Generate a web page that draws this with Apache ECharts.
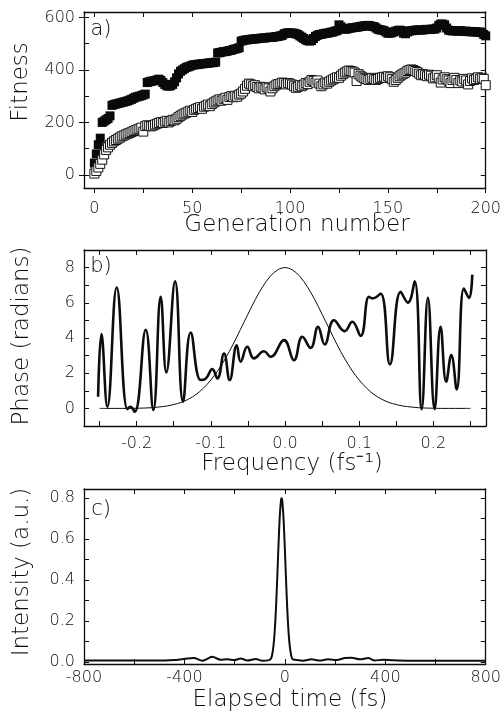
<!DOCTYPE html>
<html><head><meta charset="utf-8">
<script src="https://cdn.jsdelivr.net/npm/echarts@6/dist/echarts.min.js"></script>
<style>html,body{margin:0;padding:0;background:#fff}#c{width:504px;height:720px}</style>
</head><body><div id="c"></div>
<script>
// ---------- Panel a: fitness vs generation ----------
const generations = Array.from({length: 201}, (_, i) => i);
const fitnessBest = [
  45, 80, 115, 140, 200, 205, 210, 215, 225, 265,
  268, 270, 272, 274, 276, 278, 280, 282, 285, 288,
  292, 296, 298, 300, 302, 305, 308, 352, 355, 357,
  358, 360, 362, 365, 360, 352, 345, 340, 338, 340,
  345, 355, 370, 385, 395, 400, 405, 410, 412, 415,
  418, 420, 420, 422, 422, 424, 424, 425, 426, 427,
  428, 428, 430, 465, 466, 468, 470, 470, 472, 474,
  475, 478, 480, 482, 485, 510, 512, 514, 515, 516,
  517, 518, 518, 519, 520, 521, 522, 522, 523, 524,
  525, 524, 526, 527, 528, 530, 532, 538, 540, 542,
  540, 541, 540, 538, 535, 530, 525, 520, 515, 512,
  510, 512, 520, 528, 532, 535, 536, 538, 540, 540,
  542, 544, 545, 548, 550, 572, 565, 558, 555, 556,
  558, 560, 561, 562, 563, 564, 566, 567, 568, 569,
  570, 568, 566, 565, 560, 555, 553, 552, 550, 545,
  540, 540, 542, 545, 548, 550, 552, 550, 540, 538,
  545, 548, 550, 550, 552, 552, 553, 552, 553, 554,
  555, 554, 555, 556, 556, 560, 570, 575, 575, 572,
  560, 552, 550, 549, 550, 548, 549, 550, 548, 547,
  548, 546, 547, 545, 546, 545, 544, 545, 542, 535,
  530
];
const fitnessAvg = [
  5, 15, 28, 42, 58, 78, 95, 105, 115, 122,
  128, 133, 138, 142, 147, 150, 154, 157, 160, 163,
  167, 170, 173, 176, 180, 165, 186, 189, 187, 185,
  188, 192, 195, 198, 201, 198, 203, 206, 200, 205,
  210, 208, 214, 220, 225, 230, 234, 237, 241, 245,
  240, 248, 252, 255, 258, 252, 260, 264, 268, 262,
  270, 276, 280, 284, 288, 283, 290, 294, 286, 297,
  300, 296, 302, 298, 306, 310, 318, 328, 340, 348,
  345, 338, 342, 335, 330, 336, 332, 326, 334, 330,
  318, 330, 338, 344, 346, 348, 352, 350, 345, 350,
  348, 344, 338, 332, 336, 342, 338, 344, 350, 346,
  355, 362, 358, 352, 360, 348, 338, 345, 352, 348,
  355, 360, 364, 368, 372, 370, 378, 384, 390, 394,
  398, 396, 394, 390, 358, 384, 378, 372, 368, 366,
  362, 366, 370, 366, 362, 366, 370, 372, 374, 370,
  376, 372, 365, 355, 362, 370, 376, 382, 386, 390,
  396, 400, 402, 400, 396, 392, 386, 380, 384, 380,
  376, 382, 378, 368, 372, 380, 370, 352, 364, 372,
  365, 360, 350, 362, 370, 362, 350, 360, 356, 366,
  360, 345, 358, 368, 362, 365, 372, 366, 370, 366,
  342
];
const aXLabels = [0, 50, 100, 150, 200];
const aXTicks = [0, 25, 50, 75, 100, 125, 150, 175, 200];
const aYLabels = [0, 200, 400, 600];
const aYTicks = [0, 100, 200, 300, 400, 500, 600];

// ---------- Panel b: spectral phase and spectrum ----------
const phaseFreq = [-0.2520, -0.2475, -0.2395, -0.2269, -0.2125, -0.2085, -0.2026, -0.1878, -0.1775, -0.1676,
  -0.1600, -0.1482, -0.1375, -0.1271, -0.1137, -0.1070, -0.0980, -0.0912, -0.0822, -0.0746,
  -0.0651, -0.0598, -0.0508, -0.0418, -0.0283, -0.0193, -0.0013, 0.0121, 0.0234, 0.0346,
  0.0445, 0.0535, 0.0660, 0.0804, 0.0907, 0.1020, 0.1132, 0.1180, 0.1289, 0.1415,
  0.1559, 0.1658, 0.1748, 0.1842, 0.1927, 0.2017, 0.2098, 0.2174, 0.2242, 0.2314,
  0.2412, 0.2480, 0.2525];
const phaseVal = [0.66, 4.22, 0.09, 6.87, -0.04, 0.09, -0.19, 4.46, -0.09, 6.34,
  2.04, 7.22, 0.38, 4.31, 1.61, 1.68, 2.23, 1.70, 3.12, 1.61,
  3.59, 2.65, 3.50, 2.84, 3.25, 2.93, 3.88, 2.74, 4.07, 3.44,
  4.63, 3.63, 5.01, 4.39, 4.92, 4.12, 6.34, 6.25, 6.52, 2.50,
  6.62, 6.01, 7.22, -0.04, 6.28, -0.04, 4.63, 1.51, 3.03, 1.08,
  6.81, 6.28, 7.60];
const specFreq = [-0.25, -0.24, -0.23, -0.22, -0.21, -0.20, -0.19, -0.18, -0.17, -0.16, -0.15, -0.14, -0.13,
  -0.12, -0.11, -0.10, -0.09, -0.08, -0.07, -0.06, -0.05, -0.04, -0.03, -0.02, -0.01, 0.00,
  0.01, 0.02, 0.03, 0.04, 0.05, 0.06, 0.07, 0.08, 0.09, 0.10, 0.11, 0.12, 0.13,
  0.14, 0.15, 0.16, 0.17, 0.18, 0.19, 0.20, 0.21, 0.22, 0.23, 0.24, 0.25];
const specVal = [0.00, 0.00, 0.00, 0.00, 0.00, 0.01, 0.02, 0.04, 0.08, 0.13, 0.22, 0.34, 0.53,
  0.79, 1.15, 1.61, 2.18, 2.86, 3.64, 4.49, 5.35, 6.19, 6.92, 7.50, 7.87, 8.00,
  7.87, 7.50, 6.92, 6.19, 5.35, 4.49, 3.64, 2.86, 2.18, 1.61, 1.15, 0.79, 0.53,
  0.34, 0.22, 0.13, 0.08, 0.04, 0.02, 0.01, 0.00, 0.00, 0.00, 0.00, 0.00];
const bXLabels = [-0.2, -0.1, 0.0, 0.1, 0.2];
const bXTicks = [-0.25, -0.2, -0.15, -0.1, -0.05, 0, 0.05, 0.1, 0.15, 0.2, 0.25];
const bYLabels = [0, 2, 4, 6, 8];
const bYTicks = [-1, 0, 1, 2, 3, 4, 5, 6, 7, 8, 9];

// ---------- Panel c: temporal intensity ----------
const timeFs = [-800, -600, -480, -440, -402, -362, -329, -289, -256, -229, -200, -176, -149, -116, -89, -63,
  -55, -50, -45, -40, -35, -30, -25, -20, -15, -13, -10, -5, 0, 5, 10, 15, 20, 25, 30, 40,
  73, 106, 139, 172, 206, 239, 265, 299, 332, 358, 391, 431, 500, 600, 800];
const intensity = [0.006, 0.006, 0.006, 0.008, 0.014, 0.018, 0.005, 0.024, 0.010, 0.012, 0.008, 0.016, 0.006, 0.014, 0.005, 0.008,
  0.016, 0.038, 0.082, 0.158, 0.273, 0.421, 0.581, 0.718, 0.793, 0.800, 0.784, 0.693, 0.550, 0.390, 0.247, 0.140, 0.071, 0.032, 0.013, 0.010,
  0.005, 0.012, 0.006, 0.012, 0.008, 0.018, 0.020, 0.012, 0.018, 0.006, 0.010, 0.007, 0.005, 0.005, 0.005];
const cXLabels = [-800, -400, 0, 400, 800];
const cXTicks = [-800, -600, -400, -200, 0, 200, 400, 600, 800];
const cYLabels = [0, 0.2, 0.4, 0.6, 0.8];
const cYTicks = [0, 0.1, 0.2, 0.3, 0.4, 0.5, 0.6, 0.7, 0.8];

// ---------- styling helpers ----------
const INK = '#0d0d0d';
const FONT = '"DejaVu Sans", "Liberation Sans", sans-serif';
const FW = 300;
const line = (show) => ({show, onZero: false, lineStyle: {color: INK, width: 1.3}});
const tick = (vals, inside) => ({show: true, inside, length: 5, customValues: vals, lineStyle: {color: INK, width: 1}});
const lbl = (vals, fmt, margin) => ({show: true, customValues: vals, formatter: fmt, margin,
  color: INK, fontFamily: FONT, fontSize: 16, fontWeight: FW});
const noLbl = {show: false};
const noSplit = {show: false};
const fmtInt = v => String(Math.round(v));
const fmt1 = v => (Math.abs(v) < 1e-9 ? 0 : v).toFixed(1);

function xPair(grid, min, max, labels, ticks, fmt, margin, bottomInside) {
  return [
    {gridIndex: grid, type: 'value', position: 'bottom', min, max, axisLine: line(true),
     axisTick: tick(ticks, bottomInside), axisLabel: lbl(labels, fmt, margin), splitLine: noSplit},
    {gridIndex: grid, type: 'value', position: 'top', min, max, axisLine: line(true),
     axisTick: tick(ticks, true), axisLabel: noLbl, splitLine: noSplit}
  ];
}
function yPair(grid, min, max, labels, ticks, fmt) {
  return [
    {gridIndex: grid, type: 'value', position: 'left', min, max, axisLine: line(true),
     axisTick: tick(ticks, true), axisLabel: lbl(labels, fmt, 9), splitLine: noSplit},
    {gridIndex: grid, type: 'value', position: 'right', min, max, axisLine: line(true),
     axisTick: tick(ticks, true), axisLabel: noLbl, splitLine: noSplit}
  ];
}

const xAxis = [
  ...xPair(0, -5.3, 200, aXLabels, aXTicks, fmtInt, 13, false),
  ...xPair(1, -0.271, 0.271, bXLabels, bXTicks, fmt1, 10, true),
  ...xPair(2, -800, 800, cXLabels, cXTicks, fmtInt, 6, true)
];
const yAxis = [
  ...yPair(0, -50, 621, aYLabels, aYTicks, fmtInt),
  {gridIndex: 0, type: 'value', position: 'left', min: -50, max: 621, axisLine: {show: false, onZero: false},
   axisTick: tick(aYLabels, false), axisLabel: noLbl, splitLine: noSplit},
  ...yPair(1, -1, 9, bYLabels, bYTicks, fmtInt),
  ...yPair(2, -0.011, 0.845, cYLabels, cYTicks, fmt1)
];

const titleFont = {fontFamily: FONT, fontSize: 23, fontWeight: FW, fill: INK};
function gtext(text, x, y, rot, extra) {
  return Object.assign({type: 'text', x, y, rotation: rot || 0, silent: true,
    style: Object.assign({text, align: 'center', verticalAlign: 'middle'}, titleFont, extra || {})});
}

const option = {
  animation: false,
  backgroundColor: '#ffffff',
  grid: [
    {left: 84, top: 12, width: 402, height: 176},
    {left: 84, top: 250, width: 402, height: 176},
    {left: 84, top: 489, width: 402, height: 175}
  ],
  xAxis, yAxis,
  series: [
    {type: 'scatter', xAxisIndex: 0, yAxisIndex: 0, symbol: 'rect', symbolSize: 9,
     data: generations.map((g, i) => [g, fitnessBest[i]]),
     itemStyle: {color: '#0a0a0a', opacity: 1}},
    {type: 'scatter', xAxisIndex: 0, yAxisIndex: 0, symbol: 'rect', symbolSize: 9,
     data: generations.map((g, i) => [g, fitnessAvg[i]]),
     itemStyle: {color: '#ffffff', borderColor: '#111', borderWidth: 1, opacity: 1}},
    {type: 'line', xAxisIndex: 2, yAxisIndex: 3, showSymbol: false, smooth: 0.35,
     data: specFreq.map((f, i) => [f, specVal[i]]),
     lineStyle: {color: INK, width: 1}},
    {type: 'line', xAxisIndex: 2, yAxisIndex: 3, showSymbol: false, smooth: 0.45,
     data: phaseFreq.map((f, i) => [f, phaseVal[i]]),
     lineStyle: {color: INK, width: 2.6}},
    {type: 'line', xAxisIndex: 4, yAxisIndex: 5, showSymbol: false, smooth: 0.3,
     data: timeFs.map((t, i) => [t, intensity[i]]),
     lineStyle: {color: INK, width: 2}}
  ],
  graphic: [
    gtext('a)', 101, 30, 0, {fontSize: 21}),
    gtext('b)', 101, 267, 0, {fontSize: 21}),
    gtext('c)', 101, 510, 0, {fontSize: 21}),
    gtext('Fitness', 21, 82, Math.PI / 2),
    gtext('Generation number', 297, 225, 0),
    gtext('Phase (radians)', 22, 336, Math.PI / 2),
    gtext('Frequency (fs\u207B\u00B9)', 292, 464, 0),
    gtext('Intensity (a.u.)', 22, 572, Math.PI / 2),
    gtext('Elapsed time (fs)', 290, 700, 0)
  ]
};

const chart = echarts.init(document.getElementById('c'), null, {renderer: 'canvas'});
chart.setOption(option);
</script>
</body></html>
